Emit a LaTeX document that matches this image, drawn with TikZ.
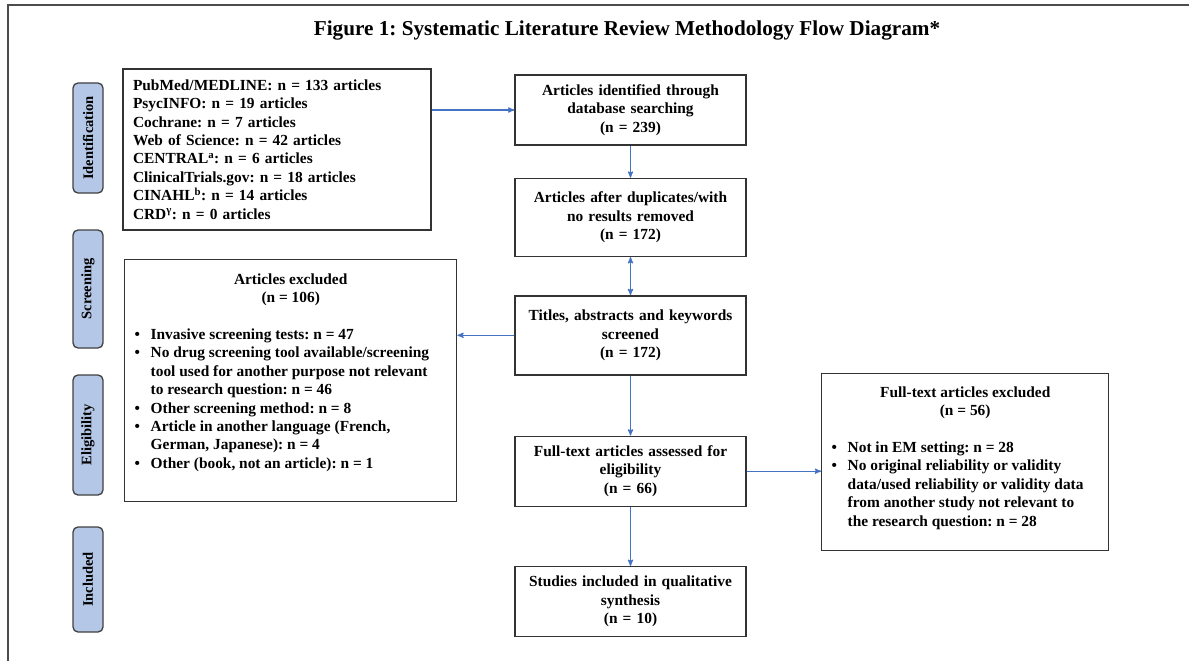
\documentclass[tikz,border=0pt]{standalone}
\usepackage{fontspec}
\setmainfont{Liberation Serif}
\usetikzlibrary{arrows,positioning}
\definecolor{stageblue}{RGB}{180,199,231}
\definecolor{linkblue}{RGB}{68,114,196}
\newcommand{\exitem}[1]{\par\noindent\hangindent=16pt\hangafter=1\makebox[16pt][l]{\textbullet}#1}
\frenchspacing

\begin{document}
\begin{tikzpicture}[x=1pt,y=-1pt,>=stealth',
  every node/.style={font=\bfseries\fontsize{15.4}{18.4}\selectfont},
  stage/.style={draw=black!75, line width=1.3pt, fill=stageblue, rounded corners=5pt, rotate=90,
                minimum height=30pt, inner sep=0pt, font=\bfseries\fontsize{14.5}{16}\selectfont},
  flowbox/.style={draw=black!80, line width=1.4pt, minimum width=231pt, text width=221pt,
                  align=center, inner sep=0pt},
  listbox/.style={draw=black!80, line width=1.4pt, inner xsep=10pt, inner ysep=10pt, anchor=north west},
  link/.style={->, draw=linkblue, line width=1.2pt}]
  \useasboundingbox (0,0) rectangle (1189,661);
  \draw[black!70, line width=1.5pt] (8,670) -- (8,5) -- (1195,5);

  \node (ttl) at (627,30) {\fontsize{21.2}{24}\selectfont Figure 1: Systematic Literature Review Methodology Flow Diagram*};

  % stages on the left
  \node (lblid)   [stage, minimum width=110pt] at (88,138)   {Identification};
  \node (lblscr)  [stage, minimum width=118pt] at (88,289)   {Screening};
  \node (lblelig) [stage, minimum width=120pt] at (88,435)   {Eligibility};
  \node (lblincl) [stage, minimum width=105pt] at (88,579.5) {Included};

  % main flow
  \node (identified) [flowbox, minimum height=70pt] at (630.5,110)
    {Articles identified through\\database searching\\(n = 239)};
  \node (deduped)  [flowbox, minimum height=78pt, below=32pt of identified]
    {Articles after duplicates/with\\no results removed\\(n = 172)};
  \node (screened) [flowbox, minimum height=79pt, below=38pt of deduped]
    {Titles, abstracts and keywords\\screened\\(n = 172)};
  \node (assessed) [flowbox, minimum height=70pt, below=60pt of screened]
    {Full-text articles assessed for\\eligibility\\(n = 66)};
  \node (included) [flowbox, minimum height=70pt, below=59pt of assessed]
    {Studies included in qualitative\\synthesis\\(n = 10)};

  % side boxes
  \node (sources) [draw=black!80, line width=1.4pt, minimum width=308pt, minimum height=161pt,
                   text width=288pt, inner xsep=10pt, align=left] at (277,149.5)
    {PubMed/MEDLINE: n = 133 articles\\
     PsycINFO: n = 19 articles\\
     Cochrane: n = 7 articles\\
     Web of Science: n = 42 articles\\
     CENTRAL\textsuperscript{a}: n = 6 articles\\
     ClinicalTrials.gov: n = 18 articles\\
     CINAHL\textsuperscript{b}: n = 14 articles\\
     CRD\textsuperscript{γ}: n = 0 articles};

  \node (excl) [listbox] at (124,259)
    {\begin{minipage}[t][222pt][t]{312pt}
     \vspace*{4pt}
     {\centering Articles excluded\\(n = 106)\par}
     \vspace{18.4pt}\raggedright
     \exitem{Invasive screening tests: n = 47}
     \exitem{No drug screening tool available/screening\newline tool used for another purpose not relevant\newline to research question: n = 46}
     \exitem{Other screening method: n = 8}
     \exitem{Article in another language (French,\newline German, Japanese): n = 4}
     \exitem{Other (book, not an article): n = 1}
     \end{minipage}};

  \node (ftexcl) [listbox] at (821,373)
    {\begin{minipage}[t][157pt][t]{267pt}
     \vspace*{3pt}
     {\centering Full-text articles excluded\\(n = 56)\par}
     \vspace{18.4pt}\raggedright
     \exitem{Not in EM setting: n = 28}
     \exitem{No original reliability or validity\newline data/used reliability or validity data\newline from another study not relevant to\newline the research question: n = 28}
     \end{minipage}};

  % connectors
  \draw[link] (sources.east |- identified.west) -- (identified.west);
  \draw[link] (identified) -- (deduped);
  \draw[link, <->] (deduped) -- (screened);
  \draw[link] (screened.west) -- (screened.west -| excl.east);
  \draw[link] (screened) -- (assessed);
  \draw[link] (assessed) -- (included);
  \draw[link] (assessed.east) -- (assessed.east -| ftexcl.west);
\end{tikzpicture}
\end{document}
